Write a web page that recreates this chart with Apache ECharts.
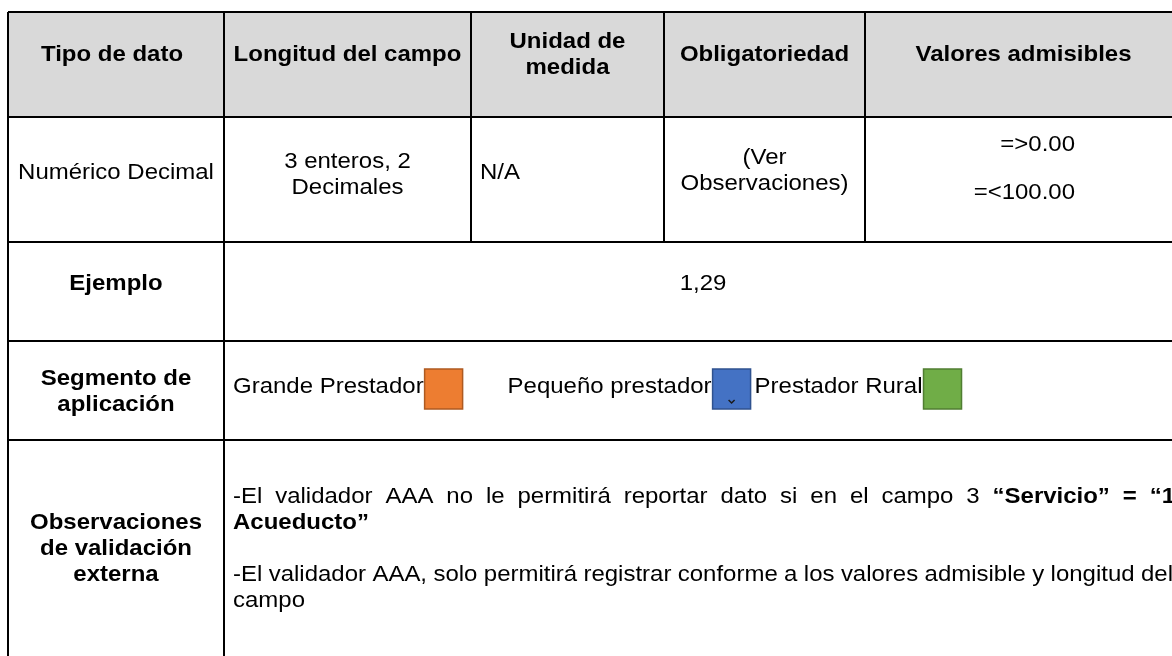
<!DOCTYPE html>
<html><head><meta charset="utf-8">
<script src="https://cdn.jsdelivr.net/npm/echarts@6/dist/echarts.min.js"></script>
<style>html,body{margin:0;padding:0;background:#fff}#c{width:1172px;height:656px}</style>
</head><body><div id="c"></div>
<script>
// ---------- DATA ----------
const headers = ['Tipo de dato', 'Longitud del campo', 'Unidad de\nmedida', 'Obligatoriedad', 'Valores admisibles'];
const fieldValues = ['Numérico Decimal', '3 enteros, 2\nDecimales', 'N/A', '(Ver\nObservaciones)'];
const admissibleValues = ['=>0.00', '=<100.00'];
const exampleLabel = 'Ejemplo';
const exampleValue = '1,29';
const segmentLabel = 'Segmento de\naplicación';
const segments = ['Grande Prestador', 'Pequeño prestador', 'Prestador Rural'];
const observationLabel = 'Observaciones\nde validación\nexterna';
const obsLine1 = ['-El', 'validador', 'AAA', 'no', 'le', 'permitirá', 'reportar', 'dato', 'si', 'en', 'el', 'campo', '3', '“Servicio”', '=', '“1'];
const obsLine1Bold = [0,0,0,0,0,0,0,0,0,0,0,0,0,1,1,1];
const obsLine2 = ['Acueducto”'];
const obsLine3 = ['-El', 'validador', 'AAA,', 'solo', 'permitirá', 'registrar', 'conforme', 'a', 'los', 'valores', 'admisible', 'y', 'longitud', 'del'];
const obsLine4 = ['campo'];

// ---------- LAYOUT / STYLE ----------
const W = 1172, H = 656;
const colX = [8, 224, 471, 664, 865, 1182];
const rowY = [12, 117, 242, 341, 440, 720];
const headerShift = [-4, 0, 0, 0, 0];
const FAMILY = '"Liberation Sans", Arial, sans-serif';
const FS = 22, SX = 1.09, LH = 26;
const segColors = [['#ED7D31', '#AE5A21'], ['#4472C4', '#2F528F'], ['#70AD47', '#507E32']];

const ctx = document.createElement('canvas').getContext('2d');
function tw(t, bold) { ctx.font = (bold ? 'bold ' : '') + FS + 'px ' + FAMILY; return ctx.measureText(t).width * SX; }
const mid = (a, b) => (a + b) / 2;

const cells = [{ x0: colX[0], y0: rowY[0], x1: colX[5], y1: rowY[1], fill: '#D9D9D9' }];

const lines = [];
for (let r = 0; r < 5; r++) lines.push([colX[0], rowY[r], colX[5], rowY[r]]);
lines.push([colX[0], rowY[0], colX[0], rowY[5]]);
lines.push([colX[1], rowY[0], colX[1], rowY[5]]);
for (let c = 2; c < 5; c++) lines.push([colX[c], rowY[0], colX[c], rowY[2]]);

const texts = [];
function T(x, y, text, bold, align) { texts.push({ x, y, text, bold: !!bold, align: align || 'center' }); }
headers.forEach((h, i) => T(mid(colX[i], colX[i + 1]) + headerShift[i], 55, h, 1));
T(mid(colX[0], colX[1]), 173, fieldValues[0]);
T(mid(colX[1], colX[2]), 175, fieldValues[1]);
T(colX[2] + 9, 173, fieldValues[2], 0, 'left');
T(mid(colX[3], colX[4]), 171, fieldValues[3]);
T(1075, 145, admissibleValues[0], 0, 'right');
T(1075, 193, admissibleValues[1], 0, 'right');
T(mid(colX[0], colX[1]), 284, exampleLabel, 1);
T(mid(colX[1], colX[5]), 284, exampleValue);
T(mid(colX[0], colX[1]), 392, segmentLabel, 1);
T(mid(colX[0], colX[1]), 549, observationLabel, 1);

const squares = [];
let sx = colX[1] + 9;
const sqW = 38, sqH = 40, segY = 387;
const segGaps = [45, 4, 0];
segments.forEach((s, i) => {
  T(sx, segY, s, 0, 'left');
  sx += tw(s, 0) + 1;
  squares.push({ x0: sx, y0: segY - sqH / 2 + 2, x1: sx + sqW, y1: segY + sqH / 2 + 2, fill: segColors[i][0], stroke: segColors[i][1], mark: i === 1 });
  sx += sqW + segGaps[i];
});

function justify(words, bolds, x0, x1, y) {
  const ws = words.map((w, i) => tw(w, bolds && bolds[i]));
  const sum = ws.reduce((a, b) => a + b, 0);
  const gap = words.length > 1 ? (x1 - x0 - sum) / (words.length - 1) : 0;
  let x = x0;
  words.forEach((w, i) => { T(x, y, w, bolds && bolds[i], 'left'); x += ws[i] + gap; });
}
function plain(words, bolds, x0, y) {
  const sp = tw(' ', 0);
  let x = x0;
  words.forEach((w, i) => { const b = bolds && bolds[i]; T(x, y, w, b, 'left'); x += tw(w, b) + sp; });
}
const tx0 = colX[1] + 9;
justify(obsLine1, obsLine1Bold, tx0, 1175, 497);
plain(obsLine2, [1], tx0, 523);
justify(obsLine3, null, tx0, 1173, 575);
plain(obsLine4, null, tx0, 601);

const chart = echarts.init(document.getElementById('c'), null, { renderer: 'canvas' });
chart.setOption({
  animation: false,
  backgroundColor: '#fff',
  grid: { left: 0, right: 0, top: 0, bottom: 0 },
  xAxis: { type: 'value', min: 0, max: W, show: false },
  yAxis: { type: 'value', min: 0, max: H, inverse: true, show: false },
  series: [
    {
      type: 'custom', clip: false, silent: true,
      data: cells.map(c => [c.x0, c.y0, c.x1, c.y1]),
      renderItem(p, api) {
        const a = api.coord([api.value(0), api.value(1)]), b = api.coord([api.value(2), api.value(3)]);
        return { type: 'rect', shape: { x: a[0], y: a[1], width: b[0] - a[0], height: b[1] - a[1] }, style: { fill: cells[p.dataIndex].fill } };
      }
    },
    {
      type: 'custom', clip: false, silent: true,
      data: squares.map(c => [c.x0, c.y0, c.x1, c.y1]),
      renderItem(p, api) {
        const s = squares[p.dataIndex];
        const a = api.coord([api.value(0), api.value(1)]), b = api.coord([api.value(2), api.value(3)]);
        const children = [{ type: 'rect', shape: { x: a[0], y: a[1], width: b[0] - a[0], height: b[1] - a[1] }, style: { fill: s.fill, stroke: s.stroke, lineWidth: 1.5 } }];
        if (s.mark) {
          const cx = (a[0] + b[0]) / 2, by = b[1] - 6;
          children.push({ type: 'polyline', shape: { points: [[cx - 3, by - 3], [cx, by], [cx + 3, by - 3]] }, style: { stroke: '#1a1a1a', lineWidth: 1.5, fill: null } });
        }
        return { type: 'group', children };
      }
    },
    {
      type: 'custom', clip: false, silent: true,
      data: lines,
      renderItem(p, api) {
        const a = api.coord([api.value(0), api.value(1)]), b = api.coord([api.value(2), api.value(3)]);
        return { type: 'line', shape: { x1: a[0], y1: a[1], x2: b[0], y2: b[1] }, style: { stroke: '#000', lineWidth: 2 } };
      }
    },
    {
      type: 'custom', clip: false, silent: true,
      data: texts.map(t => [t.x, t.y]),
      renderItem(p, api) {
        const t = texts[p.dataIndex];
        const a = api.coord([api.value(0), api.value(1)]);
        return {
          type: 'text', x: a[0], y: a[1], scaleX: SX, scaleY: 1,
          style: { text: t.text, fill: '#000', fontFamily: FAMILY, fontSize: FS, fontWeight: t.bold ? 'bold' : 'normal', align: t.align, verticalAlign: 'middle', lineHeight: LH }
        };
      }
    }
  ]
});
</script>
</body></html>
